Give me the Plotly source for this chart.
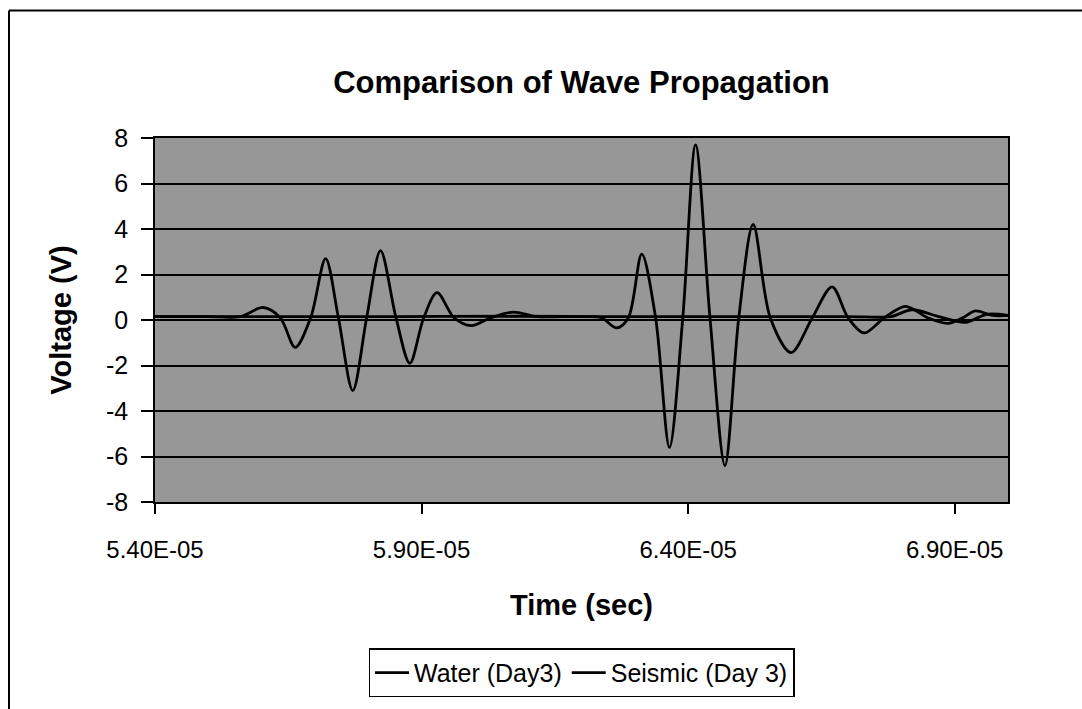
import plotly.graph_objects as go

# ---- data (time in seconds, voltage in V) ----
water_t = [5.40e-5, 5.50e-5, 5.56e-5, 5.603e-5, 5.635e-5, 5.663e-5, 5.692e-5, 5.720e-5,
           5.744e-5, 5.771e-5, 5.797e-5, 5.823e-5, 5.852e-5, 5.878e-5, 5.904e-5, 5.929e-5,
           5.961e-5, 5.993e-5, 6.030e-5, 6.072e-5, 6.115e-5, 6.162e-5, 6.30e-5, 6.50e-5,
           6.70e-5, 6.78e-5, 6.82e-5, 6.87e-5, 6.92e-5, 6.96e-5, 7.00e-5]
water_v = [0.15, 0.15, 0.15, 0.55, 0.1, -1.2, 0.1, 2.7,
           0.1, -3.1, 0.1, 3.05, 0.1, -1.9, 0.1, 1.2,
           0.1, -0.25, 0.1, 0.35, 0.15, 0.15, 0.15, 0.15,
           0.15, 0.15, 0.45, 0.15, -0.1, 0.25, 0.2]

seismic_t = [5.40e-5, 5.80e-5, 6.20e-5, 6.237e-5, 6.266e-5, 6.288e-5, 6.313e-5, 6.339e-5,
             6.365e-5, 6.390e-5, 6.414e-5, 6.441e-5, 6.469e-5, 6.495e-5, 6.522e-5, 6.554e-5,
             6.593e-5, 6.633e-5, 6.670e-5, 6.700e-5, 6.730e-5, 6.768e-5, 6.808e-5, 6.849e-5,
             6.887e-5, 6.915e-5, 6.939e-5, 6.971e-5, 7.00e-5]
seismic_v = [0.15, 0.15, 0.15, 0.1, -0.35, 0.1, 2.9, 0.1,
             -5.6, 0.1, 7.7, 0.1, -6.4, 0.1, 4.2, 0.1,
             -1.43, 0.1, 1.46, 0.1, -0.57, 0.1, 0.6, 0.1,
             -0.15, 0.1, 0.4, 0.2, 0.2]

x_tickvals = [5.4e-5, 5.9e-5, 6.4e-5, 6.9e-5]
x_ticktext = ["5.40E-05", "5.90E-05", "6.40E-05", "6.90E-05"]
y_tickvals = [8, 6, 4, 2, 0, -2, -4, -6, -8]
y_ticktext = ["8", "6", "4", "2", "0", "-2", "-4", "-6", "-8"]

FONT = "Liberation Sans, Arial, sans-serif"

fig = go.Figure()
fig.add_trace(go.Scatter(x=water_t, y=water_v, name="Water (Day3)", mode="lines",
                         line=dict(color="black", width=2.8, shape="spline", smoothing=0.9)))
fig.add_trace(go.Scatter(x=seismic_t, y=seismic_v, name="Seismic (Day 3)", mode="lines",
                         line=dict(color="black", width=2.8, shape="spline", smoothing=0.9)))

W, H = 1082, 709
L, R, T, B = 155, 1008, 138, 506

fig.update_layout(
    width=W, height=H,
    margin=dict(l=L, r=W - R, t=T, b=H - B),
    paper_bgcolor="white",
    plot_bgcolor="#979797",
    font=dict(family=FONT, color="black", size=24),
    title=dict(text="<b>Comparison of Wave Propagation</b>", x=0.5, xref="paper",
               xanchor="center", y=1 - 82 / H, yref="container", yanchor="middle",
               font=dict(size=31, family=FONT, color="black")),
    showlegend=True,
    legend=dict(orientation="h", x=0.5, xanchor="center", y=(B - 654) / (B - T),
                yanchor="top", bordercolor="black", borderwidth=1.5,
                bgcolor="white", font=dict(size=25, family=FONT), itemwidth=34,
                traceorder="normal"),
    xaxis=dict(range=[5.4e-5, 7.0e-5], tickvals=x_tickvals, ticktext=x_ticktext,
               showgrid=False, zeroline=False, showline=True, linecolor="black",
               linewidth=1.5, mirror=True, ticks="outside", ticklen=10, tickwidth=1.5,
               tickcolor="black", tickfont=dict(size=24), ticklabelstandoff=15,
               title=dict(text="<b>Time (sec)</b>", font=dict(size=29), standoff=33)),
    yaxis=dict(range=[-8, 8], tickvals=y_tickvals, ticktext=y_ticktext, showgrid=True,
               gridcolor="black", gridwidth=1.5, zeroline=False, showline=True,
               linecolor="black", linewidth=1.5, mirror=True, ticks="outside", ticklen=12,
               tickwidth=1.5, tickcolor="black", tickfont=dict(size=25), ticklabelstandoff=8,
               title=dict(text="<b>Voltage (V)</b>", font=dict(size=29), standoff=26)),
)

# chart-area border (left and top edges visible in reference)
px_w = R - L
px_h = B - T
fig.add_shape(type="line", xref="paper", yref="paper",
              x0=(9 - L) / px_w, x1=(9 - L) / px_w, y0=(B - 720) / px_h, y1=(B - 9) / px_h,
              line=dict(color="black", width=2))
fig.add_shape(type="line", xref="paper", yref="paper",
              x0=(9 - L) / px_w, x1=(1090 - L) / px_w, y0=(B - 9) / px_h, y1=(B - 9) / px_h,
              line=dict(color="black", width=2))

fig.write_html("out.html", config={"displayModeBar": False},
               post_script="document.body.style.margin='0';")
